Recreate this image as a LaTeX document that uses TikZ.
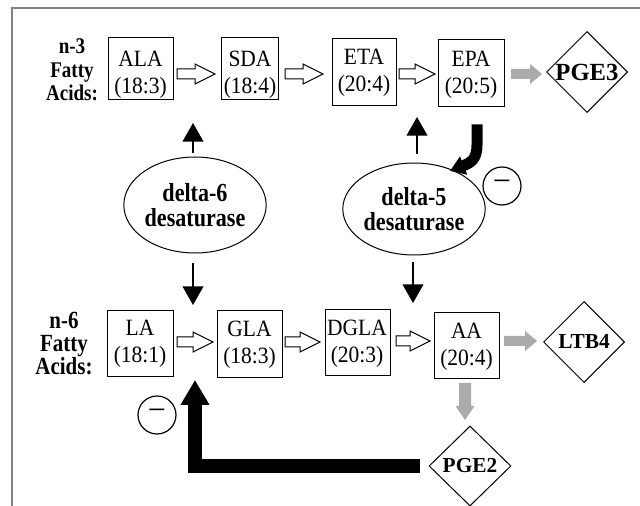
\documentclass[tikz,border=0pt]{standalone}
\usepackage{fontspec}
\setmainfont{Liberation Serif}
\newfontfamily\regc[FakeStretch=0.92]{Liberation Serif}
\newfontfamily\boldc[FakeStretch=0.85]{Liberation Serif}
\usetikzlibrary{shapes.geometric,arrows.meta,calc}
\definecolor{framegray}{gray}{0.5}
\definecolor{arrgray}{gray}{0.67}
\tikzset{
  box/.style={draw, line width=0.75pt, inner sep=0pt},
  btxt/.style={font=\regc\fontsize{17.5pt}{20.5pt}\selectfont, align=center, inner sep=0pt},
  lab/.style={font=\boldc\bfseries\fontsize{#1}{17.5pt}\selectfont, align=center, inner sep=0pt},
  ell/.style={ellipse, draw, line width=0.75pt, inner sep=0pt, align=center,
    font=\boldc\bfseries\fontsize{19.5pt}{18.5pt}\selectfont},
  dia/.style={diamond, draw, line width=0.75pt, inner sep=0pt, aspect=1,
    font=\bfseries\fontsize{#1}{20pt}\selectfont},
  minus/.style={circle, draw, line width=0.9pt, inner sep=0pt, minimum size=28.5pt,
    font=\fontsize{24pt}{24pt}\selectfont},
  blkarr/.style={line width=1.5pt, -{Triangle[length=14pt,width=15.5pt]}},
  curvearr/.style={line width=8.25pt, -{Triangle[length=11pt,width=14pt]}},
  larr/.style={line width=10.5pt, line join=miter, -{Triangle[length=18.75pt,width=20.5pt]}},
  pics/hollowarr/.style={code={\draw[line width=0.75pt, fill=white]
    (0,-5) -- ({#1-20},-5) -- ({#1-20},-10) -- (#1,0) -- ({#1-20},10) -- ({#1-20},5) -- (0,5) -- cycle;}},
  pics/grayarr/.style={code={\fill[arrgray]
    (0,-5) -- ({#1-12},-5) -- ({#1-12},-10) -- (#1,0) -- ({#1-12},10) -- ({#1-12},5) -- (0,5) -- cycle;}},
  pics/graydown/.style={code={\fill[arrgray]
    (0,-6) -- (23,-6) -- (23,-9.5) -- (37,0) -- (23,9.5) -- (23,6) -- (0,6) -- cycle;}},
}
\begin{document}
\begin{tikzpicture}[x=0.75pt,y=-0.75pt]
\useasboundingbox (0,0) rectangle (640,506);
\fill[white] (0,0) rectangle (640,506);
\draw[framegray, line width=1.5pt] (12,506) -- (12,8) -- (640,8);

% labels
\node[lab=16.8pt] (n3) at (72,70) {n-3\\Fatty\\Acids:};
\node[lab=18.5pt] (n6) at (64,343.5) {n-6\\Fatty\\Acids:};

% n-3 row
\node[box, minimum width=48.75pt, minimum height=46.5pt] (ala) at (140.5,69) {};
\node[btxt] (alat) at (140.5,75) {ALA\\(18:3)};
\node[box, minimum width=42.5pt, minimum height=46.5pt] (sda) at (250,69) {};
\node[btxt] (sdat) at (250,75) {SDA\\(18:4)};
\node[box, minimum width=48pt, minimum height=50.25pt] (eta) at (364,72.5) {};
\node[btxt] (etat) at (364,72.5) {ETA\\(20:4)};
\node[box, minimum width=49.5pt, minimum height=50.25pt] (epa) at (471,73.5) {};
\node[btxt] (epat) at (471,75) {EPA\\(20:5)};
\node[dia=18.5pt, minimum width=60.75pt, minimum height=60.75pt] (pge3) at (587,72) {PGE3};

% n-6 row
\node[box, minimum width=49.5pt, minimum height=49.5pt] (la) at (140,344) {};
\node[btxt] (lat) at (140,344) {LA\\(18:1)};
\node[box, minimum width=48.75pt, minimum height=50.25pt] (gla) at (249.5,344.5) {};
\node[btxt] (glat) at (249.5,344.5) {GLA\\(18:3)};
\node[box, minimum width=48.75pt, minimum height=49.5pt] (dgla) at (357.5,343) {};
\node[btxt] (dglat) at (357,343.5) {DGLA\\(20:3)};
\node[box, minimum width=48.75pt, minimum height=49.5pt] (aa) at (466.5,346) {};
\node[btxt] (aat) at (466.5,346.5) {AA\\(20:4)};
\node[dia=16pt, minimum width=60.75pt, minimum height=60.75pt] (ltb4) at (584,342) {LTB4};
\node[dia=16pt, minimum width=61.5pt, minimum height=60pt] (pge2) at (470,466) {PGE2};

% enzymes
\node[ell, minimum width=87pt, minimum height=72pt] (d6) at (195,205) {delta-6\\desaturase};
\node[ell, minimum width=87pt, minimum height=69pt] (d5) at (414,209) {delta-5\\desaturase};

% minus signs
\node[minus] (m5) at (502,186) {−};
\node[minus] (m6) at (157,415) {−};

% hollow conversion arrows
\pic at (177,74) {hollowarr=38};
\pic at (285,74) {hollowarr=38};
\pic at (399,74) {hollowarr=36};
\pic at (177,342) {hollowarr=36};
\pic at (285,342) {hollowarr=35};
\pic at (396,341) {hollowarr=34};

% gray product arrows
\pic at (511,74) {grayarr=31};
\pic at (504,341) {grayarr=33};
\pic[rotate=-90] at (465,383) {graydown};

% enzyme action arrows
\coordinate (g6up) at (193,123);
\coordinate (g6dn) at (193,305);
\coordinate (g5up) at (417,117);
\coordinate (g5dn) at (413,303);
\draw[blkarr] ([shift={(-2,-3)}]d6.north) -- (g6up);
\draw[blkarr] ([shift={(-2,10)}]d6.south) -- (g6dn);
\draw[blkarr] ([shift={(3,-8)}]d5.north) -- (g5up);
\draw[blkarr] ([shift={(-1,7)}]d5.south) -- (g5dn);

% inhibition arrows
\coordinate (inh5) at (450,171);
\draw[curvearr] ([shift={(6,17)}]epa.south) -- (477,145) .. controls (477,160) and (470,163) .. (inh5);
\coordinate (inh6) at (195,380);
\draw[larr] ([shift={(-9,0)}]pge2.west) -| (inh6);
\end{tikzpicture}
\end{document}
